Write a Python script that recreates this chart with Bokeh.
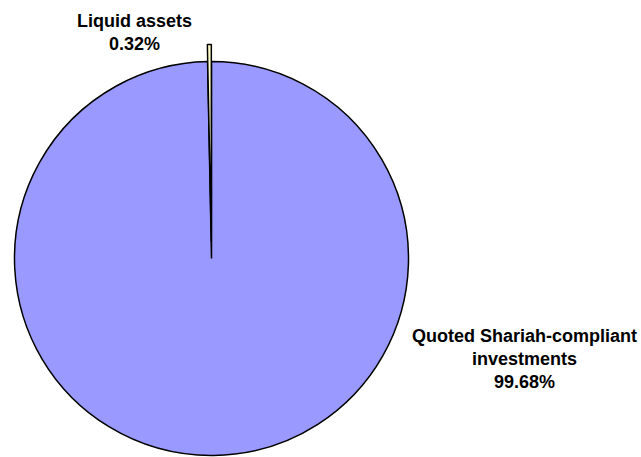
import math
from bokeh.plotting import figure
from bokeh.models import Range1d, ColumnDataSource
from bokeh.core.properties import value
from bokeh.embed import file_html
from bokeh.resources import INLINE

# ---- data ----
categories = ["Quoted Shariah-compliant investments", "Liquid assets"]
shares = [99.68, 0.32]
pct_labels = ["99.68%", "0.32%"]
label_lines = [["Quoted Shariah-compliant", "investments"], ["Liquid assets"]]
colors = ["#9999FF", "#FFFFCC"]
explode = [0, 17]

W, H = 641, 457
p = figure(width=W, height=H, output_backend="svg", toolbar_location=None,
           x_range=Range1d(-211, 430), y_range=Range1d(-199, 258),
           min_border=0, outline_line_color=None)
p.axis.visible = False
p.grid.visible = False
p.background_fill_color = "white"
p.border_fill_color = "white"

R = 197
total = sum(shares)
cum = 0.0
starts, ends, xs, ys = [], [], [], []
for s, e in zip(shares, explode):
    a0 = math.pi / 2 - 2 * math.pi * cum / total
    a1 = math.pi / 2 - 2 * math.pi * (cum + s) / total
    mid = (a0 + a1) / 2
    starts.append(a0)
    ends.append(a1)
    xs.append(e * math.cos(mid))
    ys.append(e * math.sin(mid))
    cum += s

src = ColumnDataSource(dict(x=xs, y=ys, start=starts, end=ends, color=colors, cat=categories))
p.wedge(x="x", y="y", radius=R, start_angle="start", end_angle="end", direction="clock",
        fill_color="color", line_color="black", line_width=1.5, source=src)

font = value("Liberation Sans")
# label anchors (center x, first baseline y)
anchors = [(313, -77), (-77, 238)]
lx, ly, lt = [], [], []
for lines, pct, (ax, ay) in zip(label_lines, pct_labels, anchors):
    for i, t in enumerate(lines + [pct]):
        lx.append(ax)
        ly.append(ay - 23 * i)
        lt.append(t)
p.text(x=lx, y=ly, text=lt, text_font=font, text_font_style="bold", text_font_size="18px",
       text_align="center", text_baseline="alphabetic", text_color="black")

open("out.html", "w").write(file_html(p, INLINE))
